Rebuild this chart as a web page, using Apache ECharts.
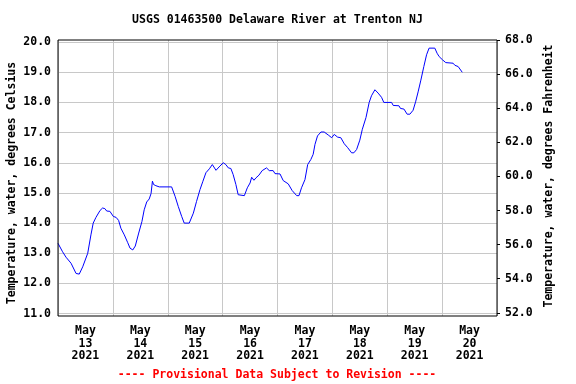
<!DOCTYPE html>
<html>
<head>
<meta charset="utf-8">
<script src="https://cdn.jsdelivr.net/npm/echarts@6/dist/echarts.min.js"></script>
<style>html,body{margin:0;padding:0;background:#fff}#c{width:576px;height:384px}</style>
</head>
<body>
<div id="c"></div>
<script>
// Day categories (labels are centred on each day)
const days = ['May\n13\n2021','May\n14\n2021','May\n15\n2021','May\n16\n2021','May\n17\n2021','May\n18\n2021','May\n19\n2021','May\n20\n2021'];
// Hours since 2021-05-13 00:00
const hours = [0,2,3.5,5.7,7.9,9.3,10.8,13,14.4,15.4,16.6,17.3,18.4,19.5,20.5,21.3,22.7,24.2,25.4,26.5,27.5,29,30.5,31.5,32.7,33.8,35.3,36.7,37.7,38.8,39.9,40.7,41.3,41.8,42.8,43.4,44.3,49.7,51.2,52.6,54.1,55.2,57.4,59.2,60.6,62.1,63.3,64.7,66.2,67.5,69.1,70.8,72.3,73.4,74.5,75.6,76.6,77.8,78.8,79.6,81.5,82.8,84,84.7,85.7,86.6,87.9,89.3,91.2,92.4,94.1,94.9,97.1,98.5,100.7,102.4,104.4,105.4,106.5,108,109.2,110.6,111.6,112.4,113.5,115,116.4,118.2,119.7,120.8,122.3,123.7,125.2,126.7,128.4,129.4,130.6,132,133.1,134.7,136.1,137.1,138.6,140,141.5,142.5,145.9,146.6,149.1,149.8,151.3,152.7,153.9,155.3,156.4,157.5,158.7,160,161.2,162.3,164.8,165.8,166.7,168.2,169.6,172.8,173.6,175,176.8];
// Water temperature, degrees Celsius
const tempC = [13.33,13.05,12.87,12.67,12.33,12.31,12.55,13.0,13.61,14.0,14.19,14.22,14.42,14.5,14.48,14.4,14.39,14.22,14.19,14.09,13.83,13.61,13.35,13.17,13.11,13.24,13.67,14.05,14.44,14.7,14.8,14.98,15.39,15.28,15.24,15.3,15.2,15.2,14.89,14.55,14.22,14.0,14.0,14.33,14.72,15.11,15.37,15.67,15.8,15.94,15.75,15.89,16.0,15.94,15.83,15.81,15.61,15.28,14.94,14.91,14.91,15.17,15.33,15.52,15.42,15.5,15.59,15.74,15.83,15.74,15.74,15.64,15.63,15.41,15.3,15.08,14.91,14.91,15.17,15.44,15.94,16.11,16.28,16.61,16.89,17.02,17.02,16.92,16.83,16.94,16.85,16.83,16.63,16.5,16.33,16.33,16.44,16.75,17.11,17.5,18.0,18.22,18.42,18.31,18.17,18.0,18.0,17.9,17.89,17.8,17.78,17.61,17.61,17.74,18.02,18.35,18.74,19.19,19.58,19.8,19.8,19.63,19.52,19.41,19.32,19.3,19.23,19.19,19.0];
// Axis tick settings
const cTicks = {min: 11, max: 20, step: 1};
const fTicks = {min: 52, max: 68, step: 2};

const FONT = '"DejaVu Sans Mono", monospace';
const chart = echarts.init(document.getElementById('c'), null, {renderer: 'canvas'});
const grey = '#c8c8c8';
chart.setOption({
  animation: false,
  backgroundColor: '#fff',
  grid: [
    {left: 58, right: 79, top: 40, bottom: 68, show: true, borderColor: '#000', borderWidth: 1, backgroundColor: 'transparent', z: 5},
    {left: 58, right: 79, top: 42.1, bottom: 70.4},
    {left: 58, right: 79, top: 40.2, bottom: 71.2}
  ],
  xAxis: [
    {gridIndex: 0, type: 'category', data: days, boundaryGap: true,
     axisLine: {show: false}, axisTick: {show: false},
     splitLine: {show: true, lineStyle: {color: grey, width: 1}},
     axisLabel: {margin: 9, color: '#000', fontFamily: FONT, fontWeight: 'bold', fontSize: 11.5, lineHeight: 12.5, interval: 0}},
    {gridIndex: 1, type: 'value', min: 0, max: 192, show: false},
    {gridIndex: 2, type: 'value', min: 1, max: 2, show: false}
  ],
  yAxis: [
    {gridIndex: 0, type: 'value', min: 1, max: 2, show: false},
    {gridIndex: 1, type: 'value', min: cTicks.min, max: cTicks.max, interval: cTicks.step,
     axisLine: {show: false, onZero: false}, axisTick: {show: false},
     splitLine: {show: true, lineStyle: {color: grey, width: 1}},
     axisLabel: {margin: 7, color: '#000', fontFamily: FONT, fontWeight: 'bold', fontSize: 11.5, formatter: v => v.toFixed(1)}},
    {gridIndex: 2, type: 'value', position: 'right', min: fTicks.min, max: fTicks.max, interval: fTicks.step,
     axisLine: {show: false, onZero: false}, axisTick: {show: true, inside: false, length: 3, lineStyle: {color: '#000'}},
     splitLine: {show: false},
     axisLabel: {margin: 8, color: '#000', fontFamily: FONT, fontWeight: 'bold', fontSize: 11.5, formatter: v => v.toFixed(1)}}
  ],
  series: [{
    type: 'line', xAxisIndex: 1, yAxisIndex: 1, showSymbol: false, symbol: 'none',
    lineStyle: {color: '#0000ff', width: 1}, z: 3,
    data: hours.map((h, i) => [h, tempC[i]])
  }],
  graphic: [
    {type: 'text', x: 277.5, y: 20, style: {text: 'USGS 01463500 Delaware River at Trenton NJ', font: 'bold 11.5px ' + FONT, fill: '#000', textAlign: 'center', textVerticalAlign: 'middle'}},
    {type: 'text', x: 277, y: 375, style: {text: '---- Provisional Data Subject to Revision ----', font: 'bold 11.5px ' + FONT, fill: '#ff0000', textAlign: 'center', textVerticalAlign: 'middle'}},
    {type: 'text', x: 12, y: 183, rotation: Math.PI / 2, style: {text: 'Temperature, water, degrees Celsius', font: 'bold 11.5px ' + FONT, fill: '#000', textAlign: 'center', textVerticalAlign: 'middle'}},
    {type: 'text', x: 549, y: 176, rotation: Math.PI / 2, style: {text: 'Temperature, water, degrees Fahrenheit', font: 'bold 11.5px ' + FONT, fill: '#000', textAlign: 'center', textVerticalAlign: 'middle'}}
  ]
});
</script>
</body>
</html>
